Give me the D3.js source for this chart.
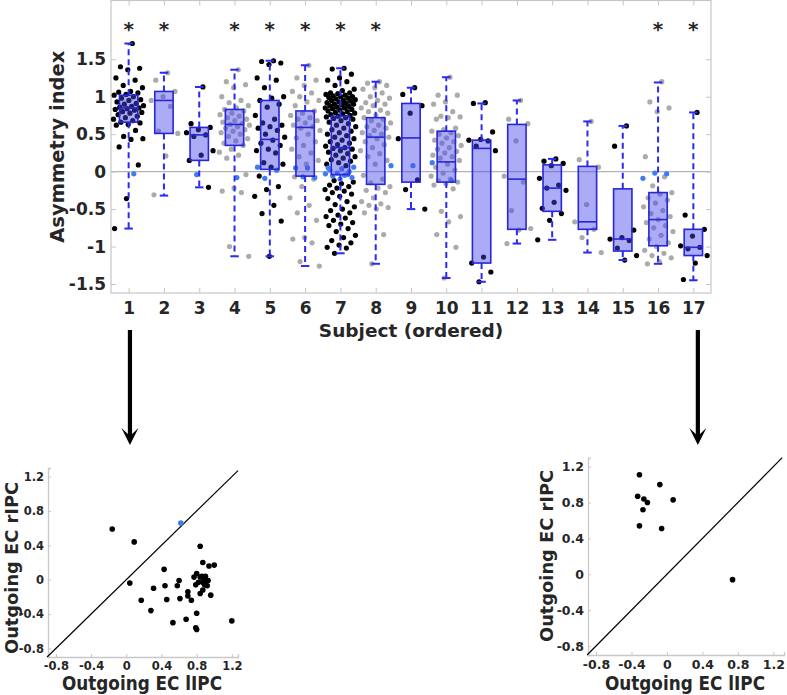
<!DOCTYPE html>
<html>
<head>
<meta charset="utf-8">
<script src="https://cdn.jsdelivr.net/npm/d3@7"></script>
<style>
  html, body { margin: 0; padding: 0; background: #fff; }
  text { font-family: "DejaVu Sans", sans-serif; font-weight: bold; fill: #262626; }
</style>
</head>
<body>
<script>
// ---------------- DATA ----------------
const subjects = [1,2,3,4,5,6,7,8,9,10,11,12,13,14,15,16,17];
const starred = [1,2,4,5,6,7,8,16,17];
const yTicks = [-1.5,-1,-0.5,0,0.5,1,1.5];

// box statistics per subject
const q1    = [0.66, 0.51, 0.15, 0.35, 0.03, -0.06, -0.04, -0.17, -0.14, -0.14, -1.22, -0.77, -0.53, -0.77, -1.06, -0.99, -1.12];
const med   = [0.85, 0.95, 0.49, 0.63, 0.43, 0.59, 0.32, 0.46, 0.45, 0.13, 0.31, -0.10, -0.22, -0.67, -0.90, -0.64, -1.01];
const q3    = [1.02, 1.07, 0.59, 0.83, 0.95, 0.81, 0.74, 0.72, 0.91, 0.54, 0.42, 0.63, 0.09, 0.07, -0.23, -0.28, -0.77];
const wLow  = [-0.76, -0.32, -0.21, -1.13, -1.13, -1.26, -1.09, -1.23, -0.50, -1.42, -1.47, -0.96, -0.91, -1.08, -1.18, -1.23, -1.45];
const wHigh = [1.71, 1.32, 1.13, 1.36, 1.48, 1.42, 1.38, 1.20, 1.12, 1.26, 0.91, 0.95, 0.17, 0.67, 0.61, 1.19, 0.79];

// point colour class per subject (odd subjects black, even grey)
const pointShade = ["black","grey","black","grey","black","grey","black","grey","black","grey","black","grey","black","grey","black","grey","black"];

// individual asymmetry values per subject
const subjectPoints = [
  [1.71,1.40,1.38,1.36,1.25,1.22,1.15,1.12,1.07,1.06,1.05,1.03,1.02,1.00,0.98,0.96,0.95,0.93,0.91,0.90,0.88,0.87,0.86,0.85,0.84,0.83,0.82,0.80,0.79,0.78,0.76,0.74,0.72,0.70,0.68,0.66,0.65,0.63,0.62,0.55,0.47,0.44,0.43,0.33,0.09,-0.36,-0.76],
  [1.32,1.22,1.07,1.00,0.95,0.87,0.54,0.51,0.21,-0.31],
  [1.13,0.64,0.59,0.56,0.52,0.49,0.47,0.28,0.22,0.15,-0.21],
  [1.36,1.20,1.16,1.12,1.00,0.95,0.92,0.88,0.85,0.83,0.81,0.78,0.76,0.74,0.72,0.70,0.68,0.66,0.64,0.63,0.62,0.60,0.58,0.56,0.54,0.52,0.50,0.47,0.44,0.41,0.38,0.35,0.30,0.26,0.22,0.18,-0.04,-0.22,-0.26,-0.28,-1.00,-1.13],
  [1.48,1.47,1.45,1.43,1.25,1.22,1.12,1.00,0.98,0.95,0.90,0.86,0.75,0.70,0.65,0.62,0.60,0.58,0.55,0.50,0.46,0.42,0.38,0.35,0.30,0.28,0.25,0.12,0.10,0.06,-0.06,-0.20,-0.24,-0.33,-0.45,-0.56,-0.66,-1.13],
  [1.42,1.25,1.22,1.15,1.07,1.05,1.00,0.95,0.93,0.88,0.81,0.78,0.75,0.72,0.70,0.68,0.65,0.62,0.60,0.58,0.55,0.50,0.45,0.40,0.35,0.30,0.25,0.20,0.15,0.10,-0.07,-0.10,-0.20,-0.35,-0.45,-0.55,-0.65,-0.88,-0.90,-0.95,-1.20,-1.26],
  [1.38,1.37,1.30,1.25,1.22,1.20,1.15,1.10,1.08,1.05,1.05,1.04,1.03,1.02,1.01,1.00,1.00,0.99,0.98,0.97,0.96,0.95,0.95,0.94,0.93,0.92,0.91,0.90,0.90,0.89,0.88,0.87,0.86,0.85,0.85,0.84,0.83,0.82,0.81,0.80,0.79,0.78,0.77,0.76,0.75,0.74,0.73,0.72,0.71,0.70,0.68,0.66,0.64,0.62,0.60,0.58,0.56,0.54,0.52,0.50,0.48,0.46,0.44,0.42,0.40,0.38,0.36,0.34,0.32,0.31,0.30,0.28,0.26,0.24,0.22,0.20,0.18,0.16,0.14,0.12,0.10,0.08,-0.12,-0.14,-0.16,-0.18,-0.20,-0.22,-0.24,-0.26,-0.28,-0.30,-0.33,-0.36,-0.40,-0.44,-0.47,-0.50,-0.52,-0.55,-0.58,-0.60,-0.62,-0.65,-0.68,-0.70,-0.72,-0.76,-0.80,-0.85,-0.88,-0.92,-0.95,-0.98,-1.01,-1.02,-1.09],
  [1.20,1.18,1.15,1.12,1.10,1.05,1.00,0.98,0.95,0.92,0.90,0.88,0.85,0.82,0.80,0.78,0.75,0.72,0.70,0.68,0.65,0.62,0.60,0.58,0.55,0.52,0.50,0.48,0.46,0.44,0.40,0.36,0.32,0.28,0.24,0.20,0.15,0.10,-0.05,-0.10,-0.15,-0.20,-0.22,-0.25,-0.28,-0.35,-0.40,-0.43,-0.45,-0.48,-0.50,-0.55,-0.84,-1.23],
  [1.12,1.03,0.88,0.78,0.44,-0.11,-0.24,-0.50],
  [1.26,1.02,1.02,0.93,0.90,0.80,0.74,0.73,0.72,0.70,0.58,0.56,0.54,0.52,0.50,0.48,0.45,0.42,0.40,0.38,0.35,0.32,0.30,0.27,0.25,0.22,0.20,0.18,0.15,0.10,0.06,0.02,-0.02,-0.06,-0.10,-0.12,-0.14,-0.16,-0.18,-0.23,-0.53,-0.60,-0.67,-0.84,-1.01,-1.42],
  [0.92,0.91,0.53,0.43,0.42,0.41,0.34,0.28,-1.14,-1.22,-1.34,-1.47],
  [0.95,0.70,0.64,0.41,-0.06,-0.14,-0.52,-0.76,-0.78,-0.96],
  [0.17,0.14,0.11,0.08,-0.09,-0.18,-0.22,-0.25,-0.41,-0.49,-0.56,-0.65,-0.91],
  [0.67,0.16,0.06,-0.44,-0.67,-0.77,-0.88,-1.08],
  [0.61,0.34,-0.78,-0.88,-0.90,-0.92,-1.02,-1.12,-1.18],
  [1.20,0.93,0.85,0.80,0.20,-0.07,-0.19,-0.28,-0.30,-0.35,-0.38,-0.42,-0.47,-0.52,-0.56,-0.60,-0.64,-0.68,-0.72,-0.75,-0.80,-0.85,-0.90,-0.95,-1.00,-1.05,-1.09,-1.12,-1.15,-1.20,-1.23],
  [0.79,-0.58,-0.77,-0.86,-0.99,-1.01,-1.03,-1.12,-1.22,-1.44]
];
// near-zero values (blue) per subject
const bluePoints = [
  [-0.03], [], [-0.04], [-0.08], [0.06,0.02,-0.09], [0.05,0.05,-0.08,-0.07],
  [0.06,0.04,0.02,0.00,-0.02,-0.03,-0.05,-0.06,-0.08,-0.10,0.05,-0.04],
  [0.08], [0.08], [0.12,-0.12], [], [], [], [], [], [-0.03,-0.02,-0.09], []
];

// scatter: subject 1 (left) and subject 17 (right)
const scatterTicks = [-0.8,-0.4,0,0.4,0.8,1.2];
const leftLIPC = [-0.16,0.09,0.04,0.84,0.43,0.31,0.17,0.28,0.46,0.44,0.58,0.60,0.61,0.70,0.70,0.74,0.80,0.68,0.53,0.79,0.80,1.20,0.87,0.94,1.00,0.77,0.79,0.82,0.84,0.86,0.88,0.92,0.87,0.89,0.92,0.87,0.84,0.93,0.96,0.80,0.90];
const leftRIPC = [0.59,0.44,-0.04,0.39,0.12,-0.10,-0.24,-0.36,-0.23,-0.07,-0.07,-0.01,-0.22,-0.14,-0.19,-0.24,-0.39,-0.46,-0.50,-0.56,-0.58,-0.48,0.20,0.16,0.17,0.03,-0.06,-0.03,0.03,0.04,-0.01,-0.01,-0.03,-0.06,-0.07,-0.12,-0.16,-0.01,-0.18,0.07,0.04];
const leftBlueLIPC = [0.62];
const leftBlueRIPC = [0.66];
const rightLIPC = [-0.31,-0.08,-0.33,-0.26,-0.22,0.07,-0.27,-0.31,-0.06,0.74];
const rightRIPC = [1.11,1.00,0.87,0.84,0.80,0.83,0.72,0.54,0.51,-0.06];

// ---------------- DRAW ----------------
const W = 787, H = 695;
const svg = d3.select("body").append("svg").attr("width", W).attr("height", H);

const COL = { black: "#000000", grey: "#ababab", blue: "#3f7cf0" };
const frameCol = "#c6c6c6";

// ---- top box chart ----
const x = d3.scaleLinear().domain([0.5, 17.5]).range([111, 711]);
const y = d3.scaleLinear().domain([-1.62, 2.284]).range([293, 0.5]);

const topG = svg.append("g");

// zero line
topG.append("line")
  .attr("x1", x(0.5)).attr("x2", x(17.5))
  .attr("y1", y(0)).attr("y2", y(0))
  .attr("stroke", "#b4b4b4").attr("stroke-width", 1.2);

// axes (inward ticks, all four sides)
function styleAxis(g, showLabels) {
  g.select(".domain").remove();
  g.selectAll(".tick line").attr("stroke", frameCol).attr("stroke-width", 1);
  g.selectAll(".tick text")
    .attr("font-family", "DejaVu Sans").attr("font-weight", "bold")
    .attr("font-size", 17).attr("fill", "#262626");
  if (!showLabels) g.selectAll(".tick text").remove();
}
topG.append("g").attr("transform", `translate(0,${y.range()[0]})`)
  .call(d3.axisBottom(x).tickValues(subjects).tickSize(-5).tickPadding(9).tickFormat(d => String(d)))
  .call(g => styleAxis(g, true));
topG.append("g").attr("transform", `translate(0,${y.range()[1]})`)
  .call(d3.axisTop(x).tickValues(subjects).tickSize(-5))
  .call(g => styleAxis(g, false));
topG.append("g").attr("transform", `translate(${x.range()[0]},0)`)
  .call(d3.axisLeft(y).tickValues(yTicks).tickSize(-5).tickPadding(5).tickFormat(d => String(d)))
  .call(g => styleAxis(g, true));
topG.append("g").attr("transform", `translate(${x.range()[1]},0)`)
  .call(d3.axisRight(y).tickValues(yTicks).tickSize(-5))
  .call(g => styleAxis(g, false));

// frame
topG.append("rect")
  .attr("x", x.range()[0]).attr("y", y.range()[1])
  .attr("width", x.range()[1] - x.range()[0]).attr("height", y.range()[0] - y.range()[1])
  .attr("fill", "none").attr("stroke", frameCol).attr("stroke-width", 1.2);

// deterministic jitter offsets (position only)
const jitter = i => (((i + 1) * 0.6180339887) % 1 - 0.5) * 0.88;

// points
subjects.forEach((s, si) => {
  const vals = subjectPoints[si];
  const blues = bluePoints[si];
  const n = vals.length;
  topG.append("g").selectAll("circle").data(vals).join("circle")
    .attr("cx", (v, i) => x(s + jitter(i)))
    .attr("cy", v => y(v))
    .attr("r", 2.6)
    .attr("fill", COL[pointShade[si]]);
  topG.append("g").selectAll("circle").data(blues).join("circle")
    .attr("cx", (v, i) => x(s + jitter(i + n)))
    .attr("cy", v => y(v))
    .attr("r", 2.6)
    .attr("fill", COL.blue);
});

// boxes
const boxW = 0.52, capW = 0.24;
const boxCol = "#2626dc";
const bx = topG.append("g");
subjects.forEach((s, si) => {
  [[q3[si], wHigh[si]], [q1[si], wLow[si]]].forEach(([a, b]) => {
    bx.append("line")
      .attr("x1", x(s)).attr("x2", x(s)).attr("y1", y(a)).attr("y2", y(b))
      .attr("stroke", "#2a2af0").attr("stroke-width", 2).attr("stroke-dasharray", "6,4");
    bx.append("line")
      .attr("x1", x(s - capW / 2)).attr("x2", x(s + capW / 2)).attr("y1", y(b)).attr("y2", y(b))
      .attr("stroke", "#2a2af0").attr("stroke-width", 2);
  });
  bx.append("rect")
    .attr("x", x(s - boxW / 2)).attr("width", x(s + boxW / 2) - x(s - boxW / 2))
    .attr("y", y(q3[si])).attr("height", y(q1[si]) - y(q3[si]))
    .attr("fill", "rgb(70,70,235)").attr("fill-opacity", 0.45)
    .attr("stroke", boxCol).attr("stroke-width", 1.6);
  bx.append("line")
    .attr("x1", x(s - boxW / 2)).attr("x2", x(s + boxW / 2))
    .attr("y1", y(med[si])).attr("y2", y(med[si]))
    .attr("stroke", boxCol).attr("stroke-width", 1.6);
});

// significance stars
topG.append("g").selectAll("text").data(starred).join("text")
  .attr("x", d => x(d)).attr("y", 36)
  .attr("text-anchor", "middle").attr("font-size", 20)
  .text("*");

// axis labels
topG.append("text")
  .attr("x", (x.range()[0] + x.range()[1]) / 2).attr("y", 337)
  .attr("text-anchor", "middle").attr("font-size", 18.5)
  .text("Subject (ordered)");
topG.append("text")
  .attr("transform", `translate(64,${(y.range()[0] + y.range()[1]) / 2}) rotate(-90)`)
  .attr("text-anchor", "middle").attr("font-size", 19.5)
  .text("Asymmetry index");

// ---- arrows ----
function arrow(ax, y1, y2) {
  const g = svg.append("g");
  g.append("line").attr("x1", ax).attr("x2", ax).attr("y1", y1).attr("y2", y2 - 8)
    .attr("stroke", "#000").attr("stroke-width", 4.2);
  g.append("path")
    .attr("d", `M${ax},${y2} L${ax - 8.5},${y2 - 17} L${ax},${y2 - 9} L${ax + 8.5},${y2 - 17} Z`)
    .attr("fill", "#000");
}
arrow(x(1) + 1.3, 330, 445);
arrow(x(17) + 4.5, 330, 445);

// ---- scatter plots ----
function scatter(o) {
  const sx = d3.scaleLinear().domain(o.xDom).range(o.xRange);
  const sy = d3.scaleLinear().domain([-0.9, 1.3]).range(o.yRange);
  const g = svg.append("g");
  const gx = g.append("g").attr("transform", `translate(0,${o.yRange[0]})`)
    .call(d3.axisBottom(sx).tickValues(scatterTicks).tickSize(-3).tickPadding(5).tickFormat(d => String(d)));
  const gy = g.append("g").attr("transform", `translate(${o.xRange[0]},0)`)
    .call(d3.axisLeft(sy).tickValues(scatterTicks).tickSize(-3).tickPadding(4).tickFormat(d => String(d)));
  [gx, gy].forEach(a => {
    a.select(".domain").attr("stroke", "#c8c8c8").attr("stroke-width", 1.3);
    a.selectAll(".tick line").attr("stroke", "#c8c8c8");
    a.selectAll(".tick text").attr("font-family", "DejaVu Sans").attr("font-weight", "bold")
      .attr("font-size", o.tickFont).attr("fill", "#262626");
  });
  g.append("line")
    .attr("x1", sx(-0.9)).attr("y1", sy(-0.9))
    .attr("x2", sx(o.diagEnd)).attr("y2", sy(o.diagEnd))
    .attr("stroke", "#000").attr("stroke-width", 1.2);
  g.append("g").selectAll("circle").data(o.xs).join("circle")
    .attr("cx", d => sx(d)).attr("cy", (d, i) => sy(o.ys[i])).attr("r", 2.8).attr("fill", "#000");
  g.append("g").selectAll("circle").data(o.bx).join("circle")
    .attr("cx", d => sx(d)).attr("cy", (d, i) => sy(o.by[i])).attr("r", 2.8).attr("fill", COL.blue);
  g.append("text")
    .attr("x", (o.xRange[0] + o.xRange[1]) / 2 - 1).attr("y", 690)
    .attr("text-anchor", "middle").attr("font-size", 19)
    .attr("textLength", 160).attr("lengthAdjust", "spacingAndGlyphs")
    .text("Outgoing EC lIPC");
  g.append("text")
    .attr("transform", `translate(${o.yLabX},${o.yLabY}) rotate(-90)`)
    .attr("text-anchor", "middle").attr("font-size", 18.5)
    .attr("textLength", 172).attr("lengthAdjust", "spacingAndGlyphs")
    .text("Outgoing EC rIPC");
}
scatter({ xDom: [-0.89, 1.27], xRange: [48, 238], yRange: [657, 468],
  xs: leftLIPC, ys: leftRIPC, bx: leftBlueLIPC, by: leftBlueRIPC,
  diagEnd: 1.27, tickFont: 11.5, yLabX: 17.5, yLabY: 568 });
scatter({ xDom: [-0.89, 1.32], xRange: [588, 784], yRange: [655, 457.7],
  xs: rightLIPC, ys: rightRIPC, bx: [], by: [],
  diagEnd: 1.3, tickFont: 12.5, yLabX: 553, yLabY: 556 });
</script>
</body>
</html>
